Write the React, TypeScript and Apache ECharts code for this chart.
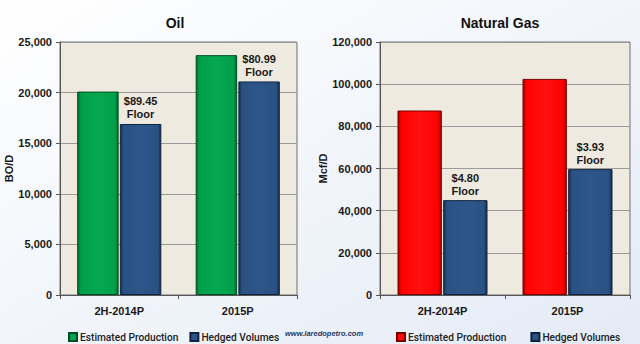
import React, { useEffect, useRef } from "react";
import * as echarts from "echarts";

const categories = ["2H-2014P", "2015P"];
const oilEstimated = [20100, 23700];
const oilHedged = [16900, 21100];
const oilFloors = ["$89.45", "$80.99"];
const gasEstimated = [87500, 102500];
const gasHedged = [45000, 59700];
const gasFloors = ["$4.80", "$3.93"];
const oilTicks = { min: 0, max: 25000, interval: 5000 };
const gasTicks = { min: 0, max: 120000, interval: 20000 };

const FONT = "'Liberation Sans', Arial, sans-serif";
const NARROW = "Roboto";

function barGrad(edge: string, mid: string, light: string) {
  return new echarts.graphic.LinearGradient(0, 0, 1, 0, [
    { offset: 0, color: edge },
    { offset: 0.08, color: mid },
    { offset: 0.5, color: light },
    { offset: 0.92, color: mid },
    { offset: 1, color: edge },
  ]);
}

const GREEN = barGrad("#006a30", "#00a04a", "#05a850");
const RED = barGrad("#a00000", "#ff0000", "#ff1010");
const BLUE = barGrad("#17304f", "#2a5184", "#2d568a");

export default function App() {
  const ref = useRef<HTMLDivElement>(null);
  useEffect(() => {
    const chart = echarts.init(ref.current!, null, { renderer: "svg" });
    const axisLabel = { fontFamily: FONT, fontWeight: "bold" as const, fontSize: 11, color: "#1a1a1a" };
    const yAxisCommon = {
      type: "value" as const,
      axisLine: { show: true, lineStyle: { color: "#555" } },
      axisTick: { show: true, length: 4, lineStyle: { color: "#555" } },
      splitLine: { lineStyle: { color: "#9a9a9a", width: 1 } },
      axisLabel: { ...axisLabel, formatter: (v: number) => v.toLocaleString("en-US"), margin: 8 },
      nameLocation: "middle" as const,
      nameRotate: 90,
      nameTextStyle: { fontFamily: FONT, fontWeight: "bold" as const, fontSize: 11, color: "#1a1a1a" },
    };
    const xAxisCommon = {
      type: "category" as const,
      data: categories,
      axisLine: { lineStyle: { color: "#555" } },
      axisTick: { show: true, length: 4, lineStyle: { color: "#555" } },
      axisLabel: { ...axisLabel, margin: 10 },
    };
    const floorLabel = (floors: string[]) => ({
      show: true,
      position: "top" as const,
      distance: 3,
      formatter: (p: any) => floors[p.dataIndex] + "\nFloor",
      fontFamily: FONT,
      fontWeight: "bold" as const,
      fontSize: 11,
      lineHeight: 13,
      color: "#1a1a1a",
    });
    const legendCommon = {
      orient: "horizontal" as const,
      width: 300,
      itemWidth: 8,
      itemHeight: 8,
      itemGap: 11,
      icon: "rect",
      textStyle: { fontFamily: NARROW, fontSize: 10.2, fontWeight: 500 as any, color: "#222", padding: [0, 0, 0, -2] },
      formatter: (n: string) => n.replace(/^(Oil|Gas) /, ""),
      selectedMode: false,
    };
    chart.setOption({
      animation: false,
      backgroundColor: new echarts.graphic.LinearGradient(0, 0, 1, 1, [
        { offset: 0, color: "#ffffff" },
        { offset: 1, color: "#e4ebf6" },
      ]),
      title: [
        { text: "Oil", left: 170, top: 11, textAlign: "center", textStyle: { fontFamily: FONT, fontWeight: "bold", fontSize: 14, color: "#111" } },
        { text: "Natural Gas", left: 495, top: 11, textAlign: "center", textStyle: { fontFamily: FONT, fontWeight: "bold", fontSize: 14, color: "#111" } },
      ],
      grid: [
        { left: 60, right: 343, top: 42, bottom: 49, show: true, backgroundColor: "#eeeae0", borderColor: "#6e6e6e", borderWidth: 1 },
        { left: 380, right: 10, top: 42, bottom: 49, show: true, backgroundColor: "#eeeae0", borderColor: "#6e6e6e", borderWidth: 1 },
      ],
      xAxis: [
        { ...xAxisCommon, gridIndex: 0 },
        { ...xAxisCommon, gridIndex: 1 },
      ],
      yAxis: [
        { ...yAxisCommon, gridIndex: 0, ...oilTicks, name: "BO/D", nameGap: 44 },
        { ...yAxisCommon, gridIndex: 1, ...gasTicks, name: "Mcf/D", nameGap: 50 },
      ],
      legend: [
        { ...legendCommon, left: 63, top: 327, data: ["Oil Estimated Production", "Oil Hedged Volumes"] },
        { ...legendCommon, left: 391, top: 327, itemGap: 24, data: ["Gas Estimated Production", "Gas Hedged Volumes"] },
      ],
      series: [
        {
          name: "Oil Estimated Production", type: "bar", xAxisIndex: 0, yAxisIndex: 0, data: oilEstimated,
          barCategoryGap: "29%", barGap: "3%",
          itemStyle: { color: GREEN, borderColor: "#004d22", borderWidth: 1 },
        },
        {
          name: "Oil Hedged Volumes", type: "bar", xAxisIndex: 0, yAxisIndex: 0, data: oilHedged,
          barCategoryGap: "29%", barGap: "3%",
          itemStyle: { color: BLUE, borderColor: "#0f2340", borderWidth: 1 },
          label: floorLabel(oilFloors),
        },
        {
          name: "Gas Estimated Production", type: "bar", xAxisIndex: 1, yAxisIndex: 1, data: gasEstimated,
          barCategoryGap: "28%", barGap: "3%",
          itemStyle: { color: RED, borderColor: "#7a0000", borderWidth: 1 },
        },
        {
          name: "Gas Hedged Volumes", type: "bar", xAxisIndex: 1, yAxisIndex: 1, data: gasHedged,
          barCategoryGap: "28%", barGap: "3%",
          itemStyle: { color: BLUE, borderColor: "#0f2340", borderWidth: 1 },
          label: floorLabel(gasFloors),
        },
      ],
      graphic: [
        {
          type: "text", left: 285, top: 329,
          style: { text: "www.laredopetro.com", fontFamily: FONT, fontStyle: "italic", fontWeight: "bold", fontSize: 7.5, fill: "#1f3a66" },
        },
      ],
    });
    return () => chart.dispose();
  }, []);
  return <div ref={ref} style={{ position: "fixed", left: 0, top: 0, width: 640, height: 344 }} />;
}
